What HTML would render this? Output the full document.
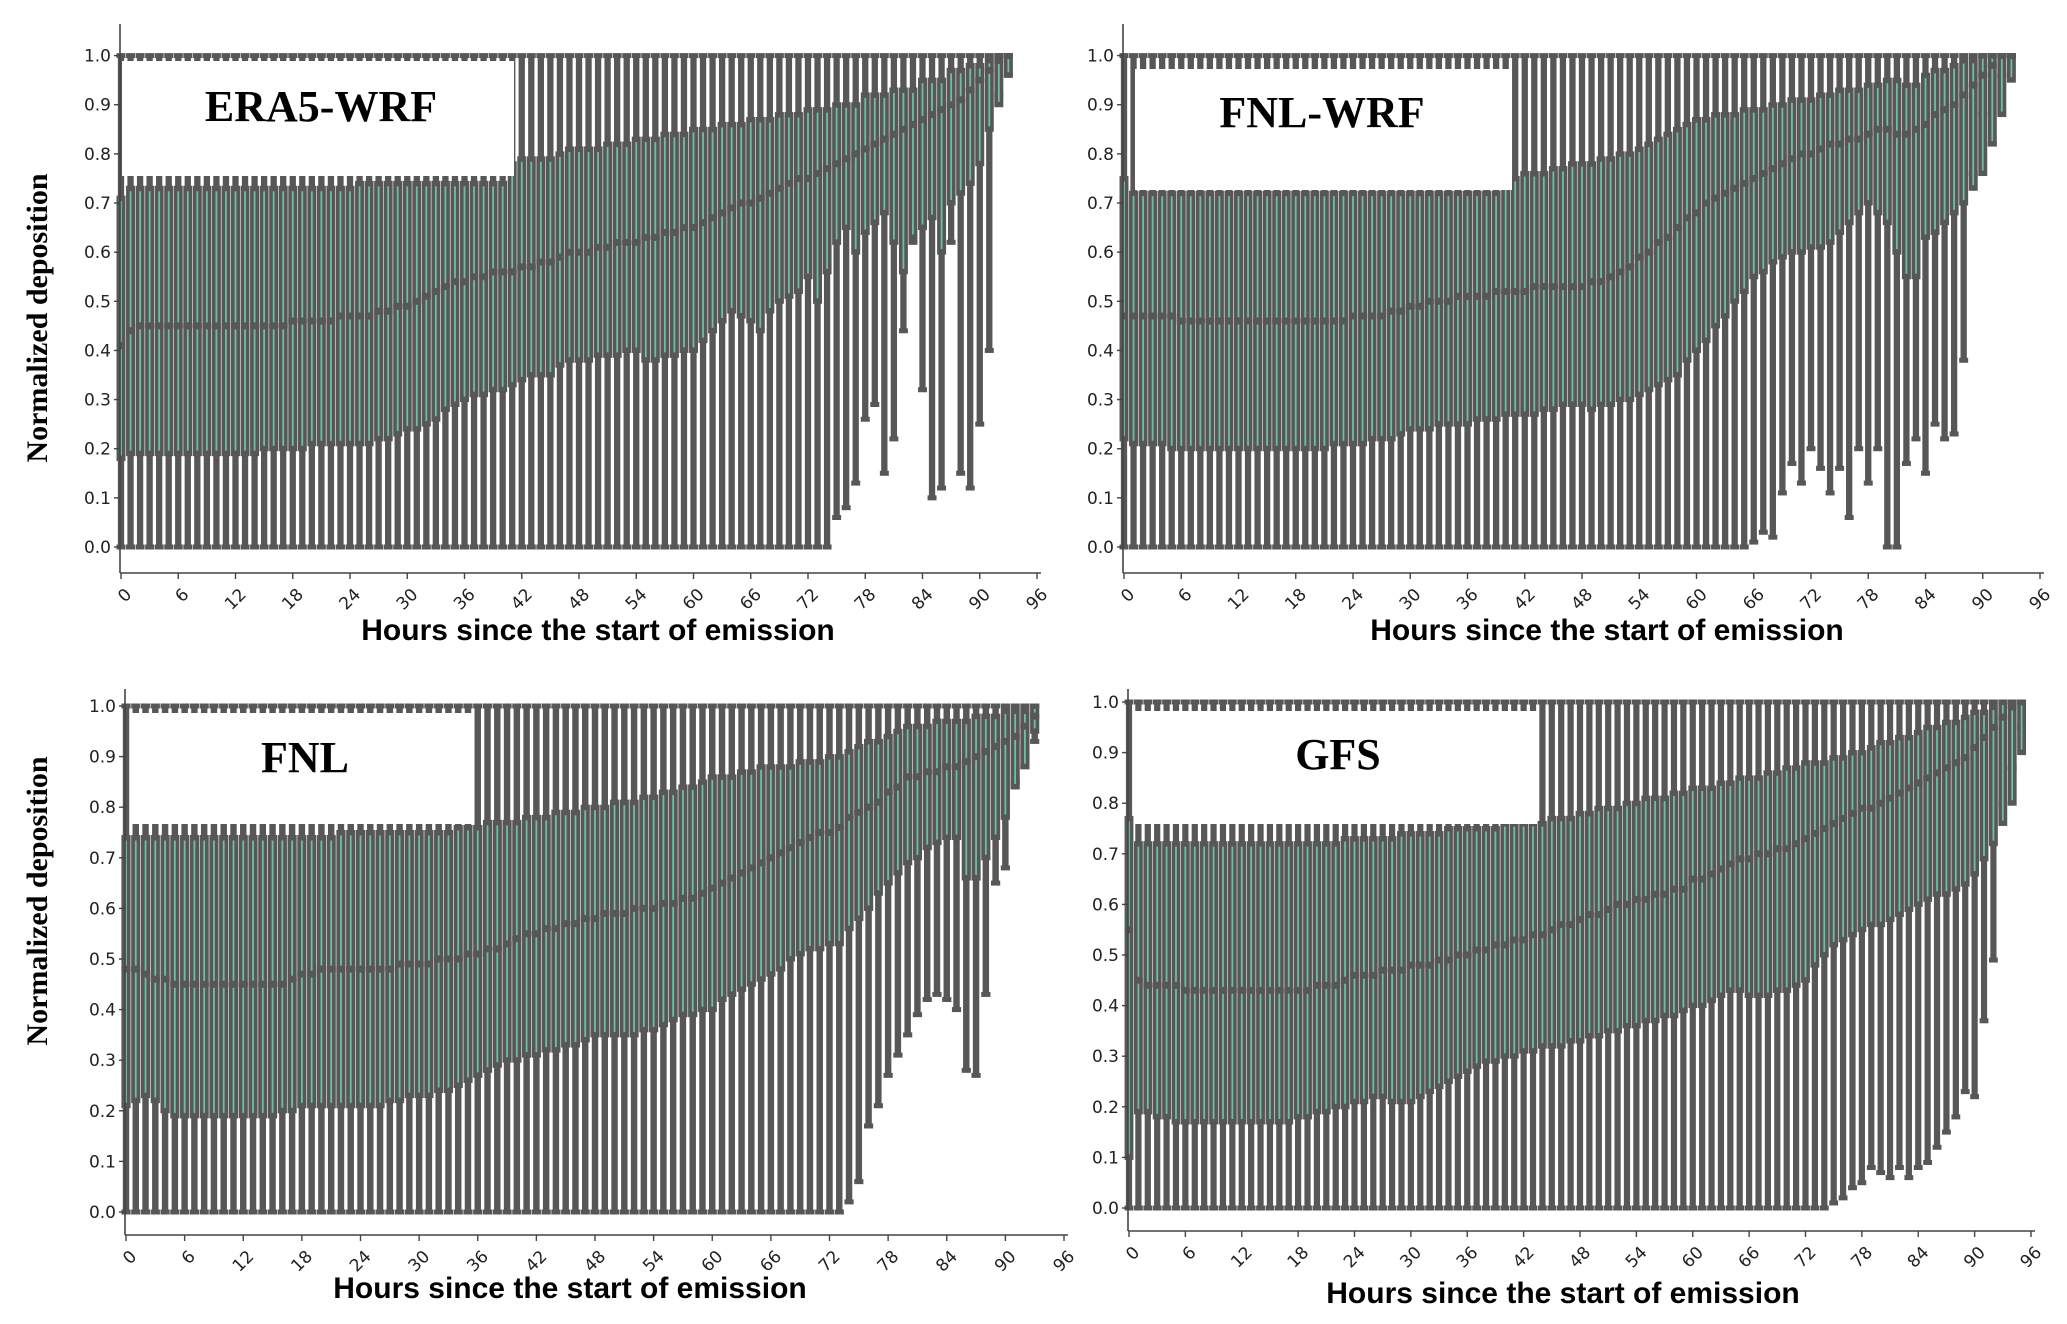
<!DOCTYPE html>
<html><head><meta charset="utf-8"><title>Normalized deposition box plots</title>
<style>
html,body{margin:0;padding:0;background:#fff;}
svg{display:block;}
</style></head>
<body>
<svg id="chart" xmlns="http://www.w3.org/2000/svg" width="2067" height="1324" viewBox="0 0 2067 1324">
<rect x="0" y="0" width="2067" height="1324" fill="#fff"/>
</svg>
<script>
// ---------------- data ----------------
const yTicks = [0, 0.1, 0.2, 0.3, 0.4, 0.5, 0.6, 0.7, 0.8, 0.9, 1.0];
const yTickLabels = ["0.0","0.1","0.2","0.3","0.4","0.5","0.6","0.7","0.8","0.9","1.0"];
const xTicks = [0, 6, 12, 18, 24, 30, 36, 42, 48, 54, 60, 66, 72, 78, 84, 90, 96];
const panelNames = ["ERA5-WRF", "FNL-WRF", "FNL", "GFS"];

const era5Q3 = [.71,.73,.73,.73,.73,.73,.73,.73,.73,.73, .73,.73,.73,.73,.73,.73,.73,.73,.73,.73, .73,.73,.73,.73,.73,.74,.74,.74,.74,.74, .74,.74,.74,.74,.74,.74,.74,.74,.74,.74, .74,.78,.79,.79,.79,.79,.80,.81,.81,.81, .81,.82,.82,.82,.83,.83,.83,.84,.84,.84, .85,.85,.85,.86,.86,.86,.87,.87,.87,.88, .88,.88,.89,.89,.89,.90,.90,.90,.92,.92, .92,.93,.93,.93,.95,.95,.95,.97,.97,.98, .98,.99,1,1];
const era5Med = [.41,.44,.45,.45,.45,.45,.45,.45,.45,.45, .45,.45,.45,.45,.45,.45,.45,.45,.46,.46, .46,.46,.46,.47,.47,.47,.47,.48,.48,.49, .49,.50,.51,.52,.53,.54,.54,.55,.55,.56, .56,.56,.57,.57,.58,.58,.59,.60,.60,.60, .61,.61,.62,.62,.62,.63,.63,.64,.64,.65, .65,.66,.67,.68,.69,.70,.70,.71,.72,.73, .74,.75,.75,.76,.77,.78,.79,.80,.81,.82, .83,.84,.85,.86,.87,.88,.89,.90,.91,.93, .95,.97,.99,1];
const era5Q1 = [.18,.19,.19,.19,.19,.19,.19,.19,.19,.19, .19,.19,.19,.19,.19,.20,.20,.20,.20,.20, .21,.21,.21,.21,.21,.21,.21,.22,.22,.23, .24,.24,.25,.26,.28,.29,.30,.31,.31,.32, .32,.33,.34,.35,.35,.35,.37,.38,.38,.38, .39,.39,.39,.40,.40,.38,.38,.39,.39,.40, .40,.42,.44,.46,.48,.47,.46,.44,.48,.50, .51,.52,.55,.50,.56,.62,.65,.60,.64,.66, .68,.62,.56,.63,.65,.67,.60,.70,.72,.74, .78,.85,.90,.96];
const era5Lo = [0,0,0,0,0,0,0,0,0,0, 0,0,0,0,0,0,0,0,0,0, 0,0,0,0,0,0,0,0,0,0, 0,0,0,0,0,0,0,0,0,0, 0,0,0,0,0,0,0,0,0,0, 0,0,0,0,0,0,0,0,0,0, 0,0,0,0,0,0,0,0,0,0, 0,0,0,0,0,.06,.08,.13,.26,.29, .15,.22,.44,.62,.32,.10,.12,.62,.15,.12, .25,.40,.92,.96];
const era5Hi = [1];

const fnlwrfQ3 = [.75,.72,.72,.72,.72,.72,.72,.72,.72,.72, .72,.72,.72,.72,.72,.72,.72,.72,.72,.72, .72,.72,.72,.72,.72,.72,.72,.72,.72,.72, .72,.72,.72,.72,.72,.72,.72,.72,.72,.72, .75,.75,.76,.76,.76,.77,.77,.78,.78,.78, .79,.79,.80,.80,.81,.82,.83,.84,.85,.86, .87,.87,.88,.88,.88,.89,.89,.89,.90,.90, .91,.91,.91,.92,.92,.93,.93,.93,.94,.94, .95,.95,.94,.94,.96,.97,.97,.98,.99,.99, 1,1,1,1];
const fnlwrfMed = [.47,.47,.47,.47,.47,.47,.46,.46,.46,.46, .46,.46,.46,.46,.46,.46,.46,.46,.46,.46, .46,.46,.46,.46,.47,.47,.47,.47,.48,.48, .49,.49,.50,.50,.50,.51,.51,.51,.51,.52, .52,.52,.52,.53,.53,.53,.53,.53,.53,.54, .54,.55,.56,.57,.59,.60,.62,.63,.65,.67, .68,.70,.71,.72,.73,.74,.75,.76,.77,.78, .79,.80,.80,.81,.82,.82,.83,.83,.84,.85, .85,.84,.84,.85,.86,.88,.89,.90,.92,.94, .96,.98,1,1];
const fnlwrfQ1 = [.22,.21,.21,.21,.21,.20,.20,.20,.20,.20, .20,.20,.20,.20,.20,.20,.20,.20,.20,.20, .20,.20,.21,.21,.21,.21,.22,.22,.22,.23, .24,.24,.24,.25,.25,.25,.25,.26,.26,.26, .27,.27,.27,.27,.28,.28,.29,.29,.29,.28, .29,.29,.30,.30,.31,.32,.33,.34,.35,.38, .40,.42,.45,.47,.50,.52,.55,.56,.58,.59, .60,.60,.61,.61,.62,.64,.66,.68,.70,.68, .66,.60,.55,.55,.63,.64,.66,.68,.70,.73, .76,.82,.88,.95];
const fnlwrfLo = [0,0,0,0,0,0,0,0,0,0, 0,0,0,0,0,0,0,0,0,0, 0,0,0,0,0,0,0,0,0,0, 0,0,0,0,0,0,0,0,0,0, 0,0,0,0,0,0,0,0,0,0, 0,0,0,0,0,0,0,0,0,0, 0,0,0,0,0,0,.01,.03,.02,.11, .17,.13,.20,.16,.11,.16,.06,.20,.13,.20, 0,0,.17,.22,.15,.25,.22,.23,.38,.76, .88,.82,.96,1];
const fnlwrfHi = [1];

const fnlQ3 = [.74,.74,.74,.74,.74,.74,.74,.74,.74,.74, .74,.74,.74,.74,.74,.74,.74,.74,.74,.74, .74,.74,.75,.75,.75,.75,.75,.75,.75,.75, .75,.75,.75,.75,.76,.76,.76,.77,.77,.77, .77,.78,.78,.78,.79,.79,.79,.80,.80,.80, .81,.81,.81,.82,.82,.83,.83,.84,.84,.85, .86,.86,.86,.87,.87,.88,.88,.88,.88,.89, .89,.89,.90,.90,.91,.92,.93,.93,.94,.95, .96,.96,.96,.97,.97,.97,.97,.98,.98,.98, .99,.99,.99,1];
const fnlMed = [.48,.48,.47,.46,.46,.45,.45,.45,.45,.45, .45,.45,.45,.45,.45,.45,.45,.46,.47,.47, .48,.48,.48,.48,.48,.48,.48,.48,.49,.49, .49,.49,.50,.50,.50,.51,.51,.52,.52,.53, .54,.55,.55,.56,.56,.57,.57,.58,.58,.59, .59,.59,.60,.60,.60,.61,.61,.62,.62,.63, .64,.65,.66,.67,.68,.69,.70,.71,.72,.73, .74,.75,.75,.76,.78,.79,.80,.81,.83,.84, .86,.86,.87,.87,.88,.88,.89,.90,.91,.92, .93,.94,.96,.98];
const fnlQ1 = [.21,.22,.23,.22,.20,.19,.19,.19,.19,.19, .19,.19,.19,.19,.19,.19,.20,.20,.21,.21, .21,.21,.21,.21,.21,.21,.21,.22,.22,.23, .23,.23,.24,.24,.25,.26,.27,.28,.29,.30, .30,.31,.31,.32,.32,.33,.33,.34,.35,.35, .35,.35,.35,.36,.36,.37,.38,.39,.39,.40, .40,.42,.43,.44,.45,.46,.47,.48,.50,.51, .52,.52,.53,.53,.56,.58,.60,.63,.65,.67, .69,.70,.72,.73,.74,.74,.66,.66,.70,.74, .78,.84,.88,.95];
const fnlLo = [0,0,0,0,0,0,0,0,0,0, 0,0,0,0,0,0,0,0,0,0, 0,0,0,0,0,0,0,0,0,0, 0,0,0,0,0,0,0,0,0,0, 0,0,0,0,0,0,0,0,0,0, 0,0,0,0,0,0,0,0,0,0, 0,0,0,0,0,0,0,0,0,0, 0,0,0,0,.02,.06,.17,.21,.27,.31, .35,.39,.42,.43,.42,.40,.28,.27,.43,.65, .68,.85,.88,.93];
const fnlHi = [1];

const gfsQ3 = [.77,.72,.72,.72,.72,.72,.72,.72,.72,.72, .72,.72,.72,.72,.72,.72,.72,.72,.72,.72, .72,.72,.72,.73,.73,.73,.73,.73,.73,.74, .74,.74,.74,.74,.75,.75,.75,.75,.75,.75, .76,.76,.76,.76,.76,.77,.77,.77,.78,.78, .79,.79,.79,.80,.80,.81,.81,.81,.82,.82, .83,.83,.83,.84,.84,.85,.85,.85,.86,.86, .87,.87,.88,.88,.88,.89,.89,.90,.90,.91, .92,.92,.93,.93,.94,.95,.95,.96,.96,.97, .98,.98,.99,1,1,1];
const gfsMed = [.55,.45,.44,.44,.44,.44,.43,.43,.43,.43, .43,.43,.43,.43,.43,.43,.43,.43,.43,.43, .44,.44,.44,.45,.46,.46,.46,.47,.47,.47, .48,.48,.48,.49,.49,.50,.50,.51,.51,.52, .52,.53,.53,.54,.54,.55,.56,.56,.57,.58, .58,.59,.60,.60,.61,.61,.62,.62,.63,.63, .65,.65,.66,.67,.68,.69,.69,.70,.70,.71, .71,.72,.73,.74,.75,.76,.77,.78,.79,.79, .80,.81,.82,.83,.84,.85,.86,.87,.88,.89, .91,.93,.95,.97,.99,1];
const gfsQ1 = [.10,.19,.19,.18,.18,.17,.17,.17,.17,.17, .17,.17,.17,.17,.17,.17,.17,.17,.18,.18, .19,.19,.20,.20,.21,.21,.22,.22,.21,.21, .21,.22,.23,.24,.25,.26,.27,.28,.29,.29, .30,.30,.31,.31,.32,.32,.32,.33,.33,.34, .34,.35,.35,.36,.36,.37,.37,.38,.38,.39, .40,.40,.41,.42,.43,.43,.42,.42,.42,.43, .43,.44,.45,.48,.50,.52,.53,.54,.55,.56, .56,.57,.58,.59,.60,.61,.62,.62,.63,.64, .66,.69,.72,.76,.80,.90];
const gfsLo = [0,0,0,0,0,0,0,0,0,0, 0,0,0,0,0,0,0,0,0,0, 0,0,0,0,0,0,0,0,0,0, 0,0,0,0,0,0,0,0,0,0, 0,0,0,0,0,0,0,0,0,0, 0,0,0,0,0,0,0,0,0,0, 0,0,0,0,0,0,0,0,0,0, 0,0,0,0,0,.01,.02,.04,.05,.08, .07,.06,.08,.06,.08,.09,.12,.15,.18,.23, .22,.37,.49,.80,.87,.95];
const gfsHi = [1];

// ---------------- layout ----------------
const NS = "http://www.w3.org/2000/svg";
const svg = document.getElementById("chart");
const GRAY = "#575757", TEAL = "#6cbfa3";

const layouts = [
  {key:"era5-wrf", x0:121, xEnd:1037, yb:547, yt:55.6, spineB:573, spineT:24, box:[122,61,392,115], titleX:321, titleY:121, xlabX:598, xlabY:640, ylab:true, ylabY:318,
   q3:era5Q3, med:era5Med, q1:era5Q1, lo:era5Lo, hi:era5Hi},
  {key:"fnl-wrf", x0:1124, xEnd:2040, yb:547, yt:55.6, spineB:573, spineT:24, box:[1135,69,377,121], titleX:1322, titleY:127, xlabX:1607, xlabY:640, ylab:false,
   q3:fnlwrfQ3, med:fnlwrfMed, q1:fnlwrfQ1, lo:fnlwrfLo, hi:fnlwrfHi},
  {key:"fnl", x0:126, xEnd:1064, yb:1212, yt:706, spineB:1235, spineT:689, box:[132,713,342,111], titleX:305, titleY:772, xlabX:570, xlabY:1298, ylab:true, ylabY:901,
   q3:fnlQ3, med:fnlMed, q1:fnlQ1, lo:fnlLo, hi:fnlHi},
  {key:"gfs", x0:1129, xEnd:2031, yb:1208, yt:702, spineB:1231, spineT:689, box:[1135,711,402,113], titleX:1338, titleY:769, xlabX:1563, xlabY:1303, ylab:false,
   q3:gfsQ3, med:gfsMed, q1:gfsQ1, lo:gfsLo, hi:gfsHi}
];

function mk(tag, attrs, parent){
  const e = document.createElementNS(NS, tag);
  for (const k in attrs) e.setAttribute(k, attrs[k]);
  (parent||svg).appendChild(e);
  return e;
}

layouts.forEach((L, pi) => {
  const g = mk("g", {});
  
  
  const ph = (L.xEnd - L.x0) / 96;
  const xS = h => L.x0 + h * ph;
  const yS = v => L.yb - v * (L.yb - L.yt);
  const n = L.q3.length;
  const hw = ph * 0.47;

  for (let i = 0; i < n; i++) {
    const x = xS(i);
    const hiV = L.hi[Math.min(i, L.hi.length - 1)];
    const w = mk("line", {x1:x, x2:x, y1:yS(L.lo[i]), y2:yS(hiV), stroke:GRAY, "stroke-width":ph*0.66}, g);
    
    
    const c1 = mk("line", {x1:x-hw, x2:x+hw, y1:yS(hiV), y2:yS(hiV), stroke:GRAY, "stroke-width":5}, g);
    
    
    const c2 = mk("line", {x1:x-hw, x2:x+hw, y1:yS(L.lo[i]), y2:yS(L.lo[i]), stroke:GRAY, "stroke-width":5}, g);
    
    
  }
  for (let i = 0; i < n; i++) {
    const x = xS(i);
    const top = yS(L.q3[i]), bot = yS(L.q1[i]), md = yS(L.med[i]);
    const r = mk("rect", {x:x-hw, y:top-2.5, width:2*hw, height:Math.max(0, bot-top+5), fill:GRAY}, g);
    
    
    if (md - top > 7) {
      const s1 = mk("line", {x1:x, x2:x, y1:top+3, y2:md-3.5, stroke:TEAL, "stroke-width":1.8}, g);
      
      
    }
    if (bot - md > 7) {
      const s2 = mk("line", {x1:x, x2:x, y1:md+3.5, y2:bot-3, stroke:TEAL, "stroke-width":1.8}, g);
      
      
    }
    const m = mk("line", {x1:x-hw, x2:x+hw, y1:md, y2:md, stroke:GRAY, "stroke-width":5}, g);
    
    
  }

  const tb = mk("rect", {x:L.box[0], y:L.box[1], width:L.box[2], height:L.box[3], fill:"#fff"}, g);
  
  
  const tt = mk("text", {x:L.titleX, y:L.titleY, "text-anchor":"middle", "font-family":"Liberation Serif, serif", "font-weight":"bold", "font-size":44, fill:"#000"}, g);
  tt.textContent = panelNames[pi];
  
  

  const sl = mk("line", {x1:L.x0-1, x2:L.x0-1, y1:L.spineT, y2:L.spineB, stroke:"#444", "stroke-width":1.6}, g);
  
  
  const sb = mk("line", {x1:L.x0-1, x2:L.xEnd+4, y1:L.spineB, y2:L.spineB, stroke:"#444", "stroke-width":1.6}, g);
  
  

  yTicks.forEach((v, k) => {
    const y = yS(v);
    const t = mk("line", {x1:L.x0-7, x2:L.x0-1, y1:y, y2:y, stroke:"#444", "stroke-width":1.4}, g);
    
    
    const lb = mk("text", {x:L.x0-10, y:y+6, "text-anchor":"end", "font-family":"DejaVu Sans, Liberation Sans, sans-serif", "font-size":17, fill:"#222"}, g);
    lb.textContent = yTickLabels[k];
    
    
  });
  xTicks.forEach(h => {
    const x = xS(h);
    const t = mk("line", {x1:x, x2:x, y1:L.spineB, y2:L.spineB+6, stroke:"#444", "stroke-width":1.4}, g);
    
    
    const lb = mk("text", {x:x+3, y:L.spineB+14, "text-anchor":"end", "font-family":"DejaVu Sans, Liberation Sans, sans-serif", "font-size":17, fill:"#222", transform:"rotate(-45 " + (x+3) + " " + (L.spineB+14) + ")", "dominant-baseline":"hanging"}, g);
    lb.textContent = String(h);
    
    
  });

  const xl = mk("text", {x:L.xlabX, y:L.xlabY, "text-anchor":"middle", "font-family":"Liberation Sans, sans-serif", "font-weight":"bold", "font-size":30, fill:"#000"}, g);
  xl.textContent = "Hours since the start of emission";
  
  
  if (L.ylab) {
    const yl = mk("text", {x:0, y:0, "text-anchor":"middle", "font-family":"Liberation Serif, serif", "font-weight":"bold", "font-size":30, fill:"#000", transform:"translate(47 " + L.ylabY + ") rotate(-90)"}, g);
    yl.textContent = "Normalized deposition";
    
    
  }
});
</script>
</body></html>
